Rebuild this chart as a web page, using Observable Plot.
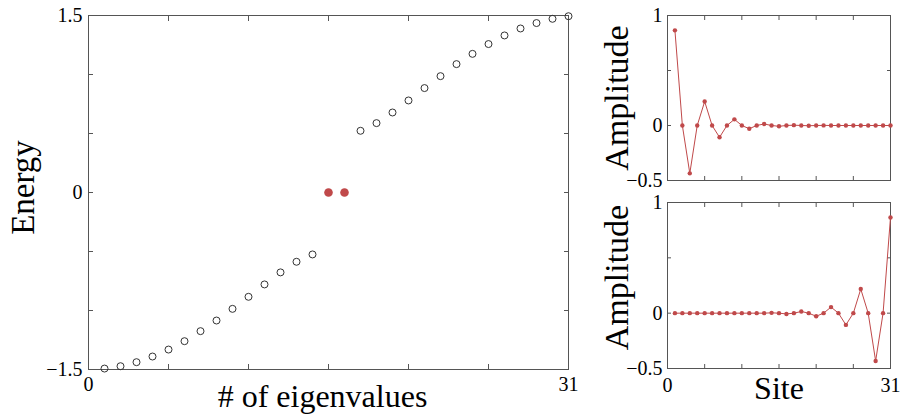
<!DOCTYPE html>
<html>
<head>
<meta charset="utf-8">
<script src="https://cdn.jsdelivr.net/npm/d3@7"></script>
<script src="https://cdn.jsdelivr.net/npm/@observablehq/plot@0.6"></script>
<style>
  html, body { margin: 0; padding: 0; background: #fff; }
  #wrap { position: relative; width: 900px; height: 418px; overflow: hidden; background: #fff; }
  #wrap svg { position: absolute; overflow: visible; }
</style>
</head>
<body>
<div id="wrap"></div>
<script>
// ---------- data ----------
const eigIndexLower = [1, 2, 3, 4, 5, 6, 7, 8, 9, 10, 11, 12, 13, 14];
const eigLower = [-1.492, -1.472, -1.438, -1.390, -1.331, -1.260, -1.175, -1.085, -0.986, -0.884, -0.779, -0.677, -0.587, -0.525];
const eigIndexUpper = [17, 18, 19, 20, 21, 22, 23, 24, 25, 26, 27, 28, 29, 30];
const eigUpper = [0.523, 0.588, 0.678, 0.780, 0.885, 0.986, 1.088, 1.175, 1.258, 1.331, 1.390, 1.436, 1.472, 1.494];
const zeroModeIndex = [15, 16];
const zeroModeEnergy = [0, 0];

const sites = [1,2,3,4,5,6,7,8,9,10,11,12,13,14,15,16,17,18,19,20,21,22,23,24,25,26,27,28,29,30];
const ampLeft = [0.865, 0, -0.435, 0, 0.218, 0, -0.107, 0, 0.056, 0, -0.029, 0, 0.014, 0, -0.007, 0, 0.003, 0, -0.002, 0, 0.001, 0, 0, 0, 0, 0, 0, 0, 0, 0];
const ampRight = [0, 0, 0, 0, 0, 0, 0, 0, 0, 0, 0, 0, 0, 0.003, 0, -0.007, 0, 0.015, 0, -0.028, 0, 0.055, 0, -0.106, 0, 0.218, 0, -0.432, 0, 0.865];

const xTicks = [0, 5, 10, 15, 20, 25, 30];
const xLabelTicks = [0, 30];
const xLabelText = ["0", "31"];
const energyTicks = [-1.5, -1, -0.5, 0, 0.5, 1, 1.5];
const energyLabelTicks = [-1.5, 0, 1.5];
const energyLabelText = ["\u22121.5", "0", "1.5"];
const ampTicks = [-0.5, 0, 0.5, 1];
const ampLabelTicks = [-0.5, 0, 1];
const ampLabelText = ["\u22120.5", "0", "1"];

// ---------- styles ----------
const FONT = "'Liberation Serif', 'DejaVu Serif', serif";
const AXIS = "#555";
const RED = "#c0494a";
const xFmt = new Map(xLabelTicks.map((d, i) => [d, xLabelText[i]]));
const eFmt = new Map(energyLabelTicks.map((d, i) => [d, energyLabelText[i]]));
const aFmt = new Map(ampLabelTicks.map((d, i) => [d, ampLabelText[i]]));

function tickMarks(xt, yt, size) {
  return [
    Plot.axisX(xt, {anchor: "bottom", tickSize: -size, fill: "none", stroke: AXIS, label: null}),
    Plot.axisX(xt, {anchor: "top", tickSize: -size, fill: "none", stroke: AXIS, label: null}),
    Plot.axisY(yt, {anchor: "left", tickSize: -size, fill: "none", stroke: AXIS, label: null}),
    Plot.axisY(yt, {anchor: "right", tickSize: -size, fill: "none", stroke: AXIS, label: null})
  ];
}

const wrap = document.getElementById("wrap");

// ---------- left panel: energy spectrum ----------
const lower = eigIndexLower.map((n, i) => ({n, e: eigLower[i]}));
const upper = eigIndexUpper.map((n, i) => ({n, e: eigUpper[i]}));
const zero = zeroModeIndex.map((n, i) => ({n, e: zeroModeEnergy[i]}));

const left = Plot.plot({
  width: 600, height: 418,
  marginLeft: 88, marginRight: 32, marginTop: 15, marginBottom: 49,
  x: {domain: [0, 30]},
  y: {domain: [-1.5, 1.5]},
  style: {fontFamily: FONT, color: "#000", background: "transparent"},
  marks: [
    Plot.frame({stroke: AXIS, strokeWidth: 1}),
    ...tickMarks(xTicks, energyTicks, 5),
    Plot.axisX(xLabelTicks, {anchor: "bottom", tickSize: 0, tickPadding: 7, tickFormat: d => xFmt.get(d), fontSize: 20, label: null, fill: "#000"}),
    Plot.axisY(energyLabelTicks, {anchor: "left", tickSize: 0, tickPadding: 6, tickFormat: d => eFmt.get(d), fontSize: 20, label: null, fill: "#000"}),
    Plot.dot(lower, {x: "n", y: "e", r: 3.5, stroke: "#333", strokeWidth: 1, fill: "none"}),
    Plot.dot(upper, {x: "n", y: "e", r: 3.5, stroke: "#333", strokeWidth: 1, fill: "none"}),
    Plot.dot(zero, {x: "n", y: "e", r: 4.3, fill: RED, stroke: "none"}),
    Plot.text(["Energy"], {text: d => d, frameAnchor: "left", textAnchor: "middle", lineAnchor: "middle", rotate: -90, dx: -65, dy: -5, fontSize: 33, fill: "#000"}),
    Plot.text(["# of eigenvalues"], {text: d => d, frameAnchor: "bottom", textAnchor: "middle", lineAnchor: "middle", dx: -6, dy: 27, fontSize: 32, fill: "#000"})
  ]
});
left.style.left = "0px"; left.style.top = "0px";
wrap.appendChild(left);

// ---------- right panels: amplitudes ----------
function ampPanel(values, opts) {
  const data = sites.map((s, i) => ({s, a: values[i]}));
  const marks = [
    Plot.frame({stroke: AXIS, strokeWidth: 1}),
    ...tickMarks(xTicks, ampTicks, 4),
    Plot.axisY(ampLabelTicks, {anchor: "left", tickSize: 0, tickPadding: 5, tickFormat: d => aFmt.get(d), fontSize: 20, label: null, fill: "#000"}),
    Plot.line(data, {x: "s", y: "a", stroke: RED, strokeWidth: 1}),
    Plot.dot(data, {x: "s", y: "a", r: 2.2, fill: RED, stroke: "none"}),
    Plot.text(["Amplitude"], {text: d => d, frameAnchor: "left", textAnchor: "middle", lineAnchor: "middle", rotate: -90, dx: -50, dy: opts.labelDy, fontSize: 34, fill: "#000"})
  ];
  if (opts.bottomLabels) {
    marks.push(Plot.axisX(xLabelTicks, {anchor: "bottom", tickSize: 0, tickPadding: 9, tickFormat: d => xFmt.get(d), fontSize: 20, label: null, fill: "#000"}));
    marks.push(Plot.text(["Site"], {text: d => d, frameAnchor: "bottom", textAnchor: "middle", lineAnchor: "middle", dy: 20, fontSize: 32, fill: "#000"}));
  } else {
    marks.push(Plot.axisX(xLabelTicks, {anchor: "bottom", tickSize: 0, fill: "none", label: null}));
  }
  return Plot.plot({
    width: 310, height: opts.height,
    marginLeft: 77, marginRight: 10, marginTop: opts.marginTop, marginBottom: opts.marginBottom,
    x: {domain: [0, 30]},
    y: {domain: [-0.5, 1]},
    style: {fontFamily: FONT, color: "#000", background: "transparent"},
    marks
  });
}

const topRight = ampPanel(ampLeft, {height: 195, marginTop: 15, marginBottom: 15, labelDy: 0, bottomLabels: false});
topRight.style.left = "590px"; topRight.style.top = "0px";
wrap.appendChild(topRight);

const bottomRight = ampPanel(ampRight, {height: 223, marginTop: 7, marginBottom: 50, labelDy: -8, bottomLabels: true});
bottomRight.style.left = "590px"; bottomRight.style.top = "195px";
wrap.appendChild(bottomRight);
</script>
</body>
</html>
